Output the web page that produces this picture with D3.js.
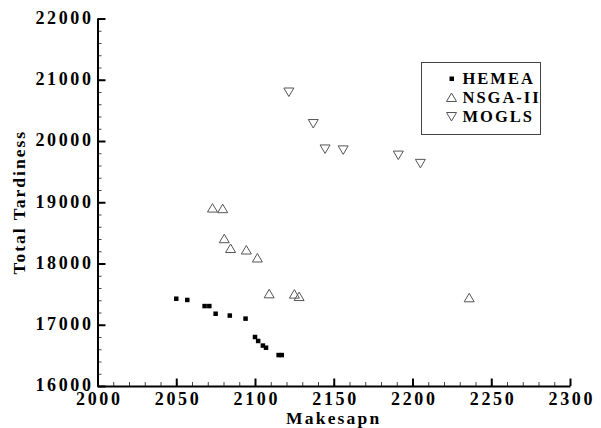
<!DOCTYPE html>
<html>
<head>
<meta charset="utf-8">
<script src="https://cdn.jsdelivr.net/npm/d3@7"></script>
<style>
  body { margin: 0; background: #fff; }
  text { font-family: "Liberation Serif", "Times New Roman", serif; font-weight: bold; }
</style>
</head>
<body>
<script>
// values
var hemeaX = [2050, 2057, 2068, 2071, 2075, 2084, 2094, 2100, 2102, 2105, 2107, 2115, 2117];
var hemeaY = [17425, 17405, 17305, 17305, 17180, 17150, 17100, 16800, 16735, 16660, 16625, 16505, 16505];
var nsgaX = [2073, 2079.5, 2080.5, 2084.5, 2094.5, 2101.5, 2109, 2125, 2128, 2236];
var nsgaY = [18905, 18895, 18405, 18245, 18220, 18090, 17505, 17500, 17460, 17440];
var moglsX = [2121.5, 2137, 2144.5, 2156, 2191, 2205];
var moglsY = [20800, 20285, 19870, 19855, 19770, 19635];
var xTicks = [2000, 2050, 2100, 2150, 2200, 2250, 2300];
var yTicks = [16000, 17000, 18000, 19000, 20000, 21000, 22000];
var legendNames = ["HEMEA", "NSGA-II", "MOGLS"];

var W = 601, H = 428;
var m = {left: 97.5, right: 31, top: 18.5, bottom: 42};

var svg = d3.select("body").append("svg")
  .attr("width", W)
  .attr("height", H);

var x = d3.scaleLinear().domain([2000, 2300]).range([m.left, W - m.right]);
var y = d3.scaleLinear().domain([16000, 22000]).range([H - m.bottom, m.top]);

// minor ticks first, then majors on top
svg.append("g")
  .attr("transform", "translate(0," + (H - m.bottom) + ")")
  .call(d3.axisBottom(x).tickValues(d3.range(2000, 2301, 10)).tickSizeInner(-4).tickSizeOuter(0).tickFormat(""))
  .call(function(g){ g.select(".domain").remove(); g.selectAll("line").attr("stroke", "#444").attr("stroke-width", 1); });
svg.append("g")
  .attr("transform", "translate(" + m.left + ",0)")
  .call(d3.axisLeft(y).tickValues(d3.range(16000, 22001, 200)).tickSizeInner(-4).tickSizeOuter(0).tickFormat(""))
  .call(function(g){ g.select(".domain").remove(); g.selectAll("line").attr("stroke", "#444").attr("stroke-width", 1); });

var xAxis = svg.append("g")
  .attr("transform", "translate(0," + (H - m.bottom) + ")")
  .call(d3.axisBottom(x).tickValues(xTicks).tickSizeInner(-7.5).tickSizeOuter(0).tickPadding(6.5).tickFormat(d3.format("d")));
var yAxis = svg.append("g")
  .attr("transform", "translate(" + m.left + ",0)")
  .call(d3.axisLeft(y).tickValues(yTicks).tickSizeInner(-8).tickSizeOuter(0).tickPadding(4).tickFormat(d3.format("d")));

[xAxis, yAxis].forEach(function(g){
  g.select(".domain").attr("stroke", "#000").attr("stroke-width", 2);
  g.selectAll(".tick line").attr("stroke", "#000").attr("stroke-width", 2);
  g.selectAll(".tick text")
    .attr("fill", "#000")
    .style("font-size", "18px")
    .style("letter-spacing", "2.6px");
});
yAxis.selectAll(".tick text").attr("dy", "0.27em");
xAxis.selectAll(".tick text").attr("dx", "1.3px");

// axis titles
svg.append("text")
  .attr("x", (m.left + W - m.right) / 2)
  .attr("y", 424)
  .attr("text-anchor", "middle")
  .style("font-size", "17.5px")
  .style("letter-spacing", "2.2px")
  .text("Makesapn");
svg.append("text")
  .attr("transform", "translate(25," + ((m.top + H - m.bottom) / 2) + ") rotate(-90)")
  .attr("text-anchor", "middle")
  .style("font-size", "17.5px")
  .style("letter-spacing", "2px")
  .text("Total Tardiness");

// marker shapes
function upTri(cx, cy) {
  return "M" + cx + "," + (cy - 4.5) + "L" + (cx + 5) + "," + (cy + 4) + "L" + (cx - 5) + "," + (cy + 4) + "Z";
}
function downTri(cx, cy) {
  return "M" + (cx - 5) + "," + (cy - 4) + "L" + (cx + 5) + "," + (cy - 4) + "L" + cx + "," + (cy + 4.5) + "Z";
}

svg.append("g").selectAll("rect")
  .data(d3.range(hemeaX.length))
  .enter().append("rect")
  .attr("x", function(i){ return x(hemeaX[i]) - 2.25; })
  .attr("y", function(i){ return y(hemeaY[i]) - 2.25; })
  .attr("width", 4.5)
  .attr("height", 4.5)
  .attr("fill", "#000");

svg.append("g").selectAll("path")
  .data(d3.range(nsgaX.length))
  .enter().append("path")
  .attr("d", function(i){ return upTri(x(nsgaX[i]), y(nsgaY[i])); })
  .attr("fill", "none")
  .attr("stroke", "#555")
  .attr("stroke-width", 1);

svg.append("g").selectAll("path")
  .data(d3.range(moglsX.length))
  .enter().append("path")
  .attr("d", function(i){ return downTri(x(moglsX[i]), y(moglsY[i])); })
  .attr("fill", "none")
  .attr("stroke", "#555")
  .attr("stroke-width", 1);

// legend
var lg = svg.append("g").attr("transform", "translate(421.5,62.5)");
lg.append("rect")
  .attr("width", 119)
  .attr("height", 72)
  .attr("fill", "#fff")
  .attr("stroke", "#444")
  .attr("stroke-width", 1);
var rowY = [16, 35, 54];
lg.append("rect").attr("x", 28).attr("y", rowY[0] - 2).attr("width", 4.5).attr("height", 4.5).attr("fill", "#000");
lg.append("path").attr("d", upTri(30, rowY[1])).attr("fill", "none").attr("stroke", "#555");
lg.append("path").attr("d", downTri(30, rowY[2])).attr("fill", "none").attr("stroke", "#555");
lg.selectAll("text.lbl")
  .data(legendNames)
  .enter().append("text")
  .attr("class", "lbl")
  .attr("x", 41)
  .attr("y", function(d, i){ return rowY[i]; })
  .attr("dy", "0.36em")
  .style("font-size", "16.5px")
  .style("letter-spacing", "2px")
  .text(function(d){ return d; });
</script>
</body>
</html>
